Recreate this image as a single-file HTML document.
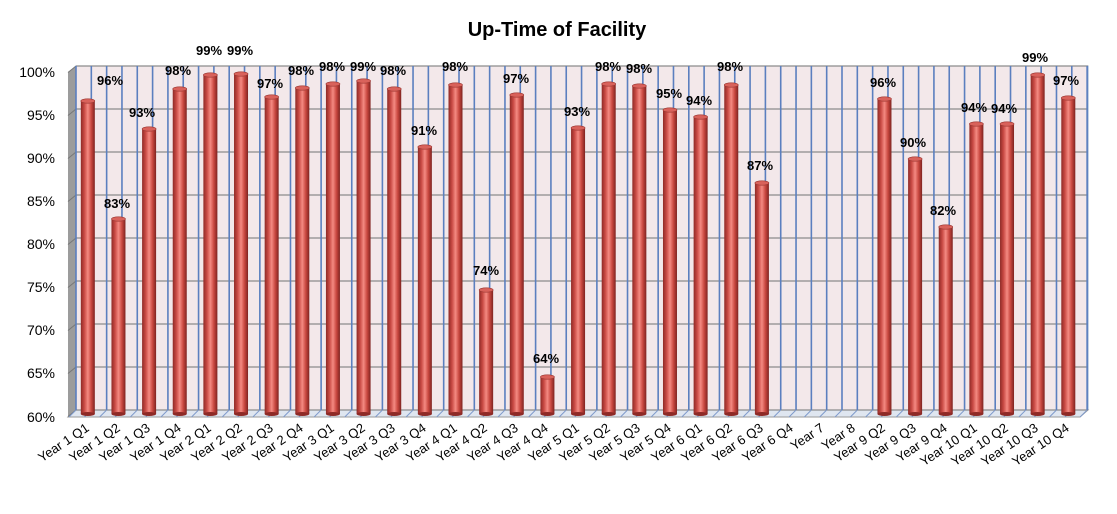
<!DOCTYPE html>
<html><head><meta charset="utf-8">
<style>
html,body{margin:0;padding:0;background:#fff;}
svg{display:block;font-family:"Liberation Sans",Arial,sans-serif;}
.t{font-size:14px;fill:#000;}
.v{font-size:13px;font-weight:bold;fill:#000;text-anchor:middle;}
.c{font-size:13px;fill:#000;text-anchor:end;}
</style></head><body>
<svg id="s" width="1117" height="514" viewBox="0 0 1117 514" xmlns="http://www.w3.org/2000/svg">
<defs>
<linearGradient id="cyl" x1="0" x2="1" y1="0" y2="0">
<stop offset="0" stop-color="#8e2a26"/>
<stop offset="0.25" stop-color="#c94a44"/>
<stop offset="0.5" stop-color="#f48a82"/>
<stop offset="0.75" stop-color="#c8473f"/>
<stop offset="1" stop-color="#7e2320"/>
</linearGradient>
</defs>
<text x="557" y="36" text-anchor="middle" style="font-size:20px;font-weight:bold">Up-Time of Facility</text>
<rect x="76" y="66" width="1012" height="344" fill="#f3e8ea" stroke="#8aa4cc" stroke-width="1"/>
<polygon points="68,72 76,66 76,410 68,417" fill="#9c9c9c"/>
<polygon points="68,417 76,410 1088,410 1080,417" fill="#dfe6f0" stroke="#9a9a9a"/>
<g id="grid"></g>
<g id="bars"></g>
<g class="t" text-anchor="end">
<text x="55" y="77">100%</text>
<text x="55" y="120">95%</text>
<text x="55" y="163">90%</text>
<text x="55" y="206">85%</text>
<text x="55" y="249">80%</text>
<text x="55" y="292">75%</text>
<text x="55" y="335">70%</text>
<text x="55" y="378">65%</text>
<text x="55" y="422">60%</text>
</g>
<g>
<text class="v" x="110" y="85">96%</text>
<text class="v" x="117" y="208">83%</text>
<text class="v" x="142" y="117">93%</text>
<text class="v" x="178" y="75">98%</text>
<text class="v" x="209" y="55">99%</text>
<text class="v" x="240" y="55">99%</text>
<text class="v" x="270" y="88">97%</text>
<text class="v" x="301" y="75">98%</text>
<text class="v" x="332" y="71">98%</text>
<text class="v" x="363" y="71">99%</text>
<text class="v" x="393" y="75">98%</text>
<text class="v" x="424" y="135">91%</text>
<text class="v" x="455" y="71">98%</text>
<text class="v" x="486" y="275">74%</text>
<text class="v" x="516" y="83">97%</text>
<text class="v" x="546" y="363">64%</text>
<text class="v" x="577" y="116">93%</text>
<text class="v" x="608" y="71">98%</text>
<text class="v" x="639" y="73">98%</text>
<text class="v" x="669" y="98">95%</text>
<text class="v" x="699" y="105">94%</text>
<text class="v" x="730" y="71">98%</text>
<text class="v" x="760" y="170">87%</text>
<text class="v" x="883" y="87">96%</text>
<text class="v" x="913" y="147">90%</text>
<text class="v" x="943" y="215">82%</text>
<text class="v" x="974" y="112">94%</text>
<text class="v" x="1004" y="113">94%</text>
<text class="v" x="1035" y="62">99%</text>
<text class="v" x="1066" y="85">97%</text>
</g>
<g>
<text class="c" transform="translate(90,430) rotate(-34)">Year 1 Q1</text>
<text class="c" transform="translate(121,430) rotate(-34)">Year 1 Q2</text>
<text class="c" transform="translate(151,430) rotate(-34)">Year 1 Q3</text>
<text class="c" transform="translate(182,430) rotate(-34)">Year 1 Q4</text>
<text class="c" transform="translate(212,430) rotate(-34)">Year 2 Q1</text>
<text class="c" transform="translate(243,430) rotate(-34)">Year 2 Q2</text>
<text class="c" transform="translate(274,430) rotate(-34)">Year 2 Q3</text>
<text class="c" transform="translate(304,430) rotate(-34)">Year 2 Q4</text>
<text class="c" transform="translate(335,430) rotate(-34)">Year 3 Q1</text>
<text class="c" transform="translate(366,430) rotate(-34)">Year 3 Q2</text>
<text class="c" transform="translate(396,430) rotate(-34)">Year 3 Q3</text>
<text class="c" transform="translate(427,430) rotate(-34)">Year 3 Q4</text>
<text class="c" transform="translate(458,430) rotate(-34)">Year 4 Q1</text>
<text class="c" transform="translate(488,430) rotate(-34)">Year 4 Q2</text>
<text class="c" transform="translate(519,430) rotate(-34)">Year 4 Q3</text>
<text class="c" transform="translate(549,430) rotate(-34)">Year 4 Q4</text>
<text class="c" transform="translate(580,430) rotate(-34)">Year 5 Q1</text>
<text class="c" transform="translate(611,430) rotate(-34)">Year 5 Q2</text>
<text class="c" transform="translate(641,430) rotate(-34)">Year 5 Q3</text>
<text class="c" transform="translate(672,430) rotate(-34)">Year 5 Q4</text>
<text class="c" transform="translate(703,430) rotate(-34)">Year 6 Q1</text>
<text class="c" transform="translate(733,430) rotate(-34)">Year 6 Q2</text>
<text class="c" transform="translate(764,430) rotate(-34)">Year 6 Q3</text>
<text class="c" transform="translate(794,430) rotate(-34)">Year 6 Q4</text>
<text class="c" transform="translate(825,430) rotate(-34)">Year 7</text>
<text class="c" transform="translate(856,430) rotate(-34)">Year 8</text>
<text class="c" transform="translate(886,430) rotate(-34)">Year 9 Q2</text>
<text class="c" transform="translate(917,430) rotate(-34)">Year 9 Q3</text>
<text class="c" transform="translate(948,430) rotate(-34)">Year 9 Q4</text>
<text class="c" transform="translate(978,430) rotate(-34)">Year 10 Q1</text>
<text class="c" transform="translate(1009,430) rotate(-34)">Year 10 Q2</text>
<text class="c" transform="translate(1039,430) rotate(-34)">Year 10 Q3</text>
<text class="c" transform="translate(1070,430) rotate(-34)">Year 10 Q4</text>
</g>
</svg>
<script>
var NS="http://www.w3.org/2000/svg";
function el(p,t,a){var e=document.createElementNS(NS,t);for(var k in a)e.setAttribute(k,a[k]);p.appendChild(e);return e;}
var g=document.getElementById("grid"),b=document.getElementById("bars");
for(var i=0;i<=8;i++){var y=66+i*43;el(g,"line",{x1:76,x2:1088,y1:y,y2:y,stroke:"#8c8c8c","stroke-width":1.2});el(g,"line",{x1:68,x2:76,y1:y+6.5,y2:y,stroke:"#777","stroke-width":1});}
for(var k=0;k<=66;k++){var x=76+k*15.32;el(g,"line",{x1:x,x2:x,y1:66,y2:410,stroke:"#5b7fbf","stroke-width":1.6});el(g,"line",{x1:x,x2:x-7,y1:410,y2:417,stroke:"#7f9acb","stroke-width":1});}
var tops=[101,219,129,89,75,74,97,88,84,81,89,147,85,290,95,377,128,84,86,110,117,85,183,null,null,null,99,159,227,124,124,75,98];
tops.forEach(function(t,i){if(t==null)return;var cx=76+15.32*(2*i+1)-3.5,w=14,bot=414;
el(b,"rect",{x:cx-w/2,y:t,width:w,height:bot-t,fill:"url(#cyl)"});
el(b,"ellipse",{cx:cx,cy:bot,rx:w/2,ry:2,fill:"#8e2a26"});
el(b,"ellipse",{cx:cx,cy:t,rx:w/2,ry:2.2,fill:"#d9625b",stroke:"#9a3530","stroke-width":0.6});});
</script>
</body></html>
